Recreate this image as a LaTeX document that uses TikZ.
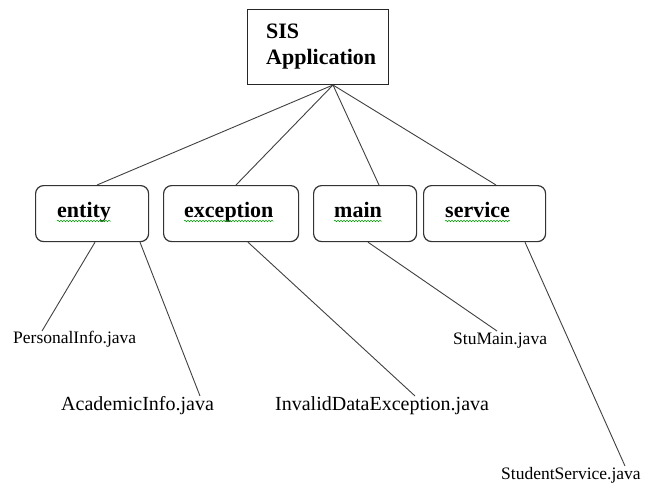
\documentclass[tikz,border=0pt]{standalone}
\usepackage{fontspec}
\setmainfont{Liberation Serif}
\usetikzlibrary{calc,decorations.pathmorphing}
\begin{document}
\begin{tikzpicture}[x=1pt,y=-1pt,
  topbox/.style={draw=black!85, line width=1.3pt, inner sep=0, anchor=north west, minimum width=141pt, minimum height=75pt},
  pkgbox/.style={draw=black!80, line width=1.2pt, rounded corners=8pt, inner sep=0, anchor=north west, minimum height=56pt},
  btext/.style={font=\fontsize{22}{26}\selectfont\bfseries, inner sep=0, anchor=base west},
  ftext/.style={font=\fontsize{17.5}{21}\selectfont, inner sep=0, anchor=base west},
  ltext/.style={font=\fontsize{20}{24}\selectfont, inner sep=0, anchor=base west},
  link/.style={draw=black!75, line width=0.9pt},
  squig/.style={draw=green!60!black, line width=0.5pt, decorate, decoration={snake, amplitude=0.8pt, segment length=3pt}}
]
\useasboundingbox (0,0) rectangle (656,487);

% top box
\node[topbox] (sis) at (247,9) {};
\node[btext] (sist) at (266,39) {SIS};
\node[btext] (appt) at (266,64) {Application};
\coordinate (apex) at (333,85);

% package boxes
\node[pkgbox, minimum width=113pt] (entity) at (35,185) {};
\node[pkgbox, minimum width=135pt] (exception) at (163,185) {};
\node[pkgbox, minimum width=103pt] (main) at (313,185) {};
\node[pkgbox, minimum width=122pt] (service) at (423,185) {};

\node[btext] (entityt) at (57,217) {entity};
\node[btext] (exceptiont) at (184,217) {exception};
\node[btext] (maint) at (334,217) {main};
\node[btext] (servicet) at (445,217) {service};

\foreach \n in {entityt,exceptiont,maint,servicet}
  \draw[squig] ([yshift=-4pt]\n.base west) -- ([yshift=-4pt]\n.base east);

% file labels
\node[ftext] (personal) at (13,343) {PersonalInfo.java};
\node[ltext] (academic) at (61,410) {AcademicInfo.java};
\node[ltext] (invalid) at (275,410) {InvalidDataException.java};
\node[ftext] (stumain) at (453,344) {StuMain.java};
\node[ftext] (stuservice) at (501,479) {StudentService.java};

\coordinate (pe) at (42,331);
\coordinate (ae) at (200,396);
\coordinate (ie) at (415,396);
\coordinate (se) at (497,331);
\coordinate (sse) at (625,466);

% connectors from top
\draw[link] (apex) -- ([xshift=62pt]entity.north west);
\draw[link] (apex) -- ([xshift=73pt]exception.north west);
\draw[link] (apex) -- ([xshift=66pt]main.north west);
\draw[link] (apex) -- ([xshift=73pt]service.north west);

% connectors down
\draw[link] ([xshift=60pt]entity.south west) -- (pe);
\draw[link] ([xshift=105pt]entity.south west) -- (ae);
\draw[link] ([xshift=85pt]exception.south west) -- (ie);
\draw[link] ([xshift=55pt]main.south west) -- (se);
\draw[link] ([xshift=102pt]service.south west) -- (sse);
\end{tikzpicture}
\end{document}
